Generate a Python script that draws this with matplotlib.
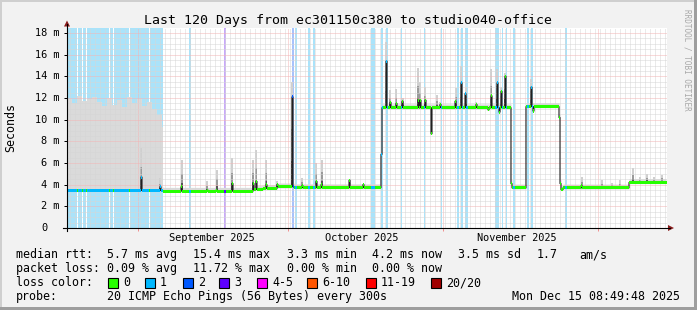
import numpy as np
import matplotlib
matplotlib.use("Agg")
import matplotlib.pyplot as plt
from matplotlib.patches import Rectangle, Polygon
from matplotlib.lines import Line2D
from matplotlib.transforms import blended_transform_factory

W, H = 697, 310
MONO = "DejaVu Sans Mono"

# x = days since start of the 120 day window, y = ms
# median rtt level changes
level_day = [0.0, 19.2, 37.2, 39.2, 42.0, 45.4, 62.8, 63.0, 88.8, 89.0,
             91.8, 98.4, 98.6, 98.8, 99.2, 112.4]
level_ms = [3.45, 3.4, 3.55, 3.65, 3.8, 3.72, 6.8, 11.1, 4.1, 3.7,
            11.2, 10.2, 4.1, 3.55, 3.7, 4.2]

# top of the smoke in the first (lossy) stretch
blue_top_day = [0, 1, 2, 3, 4, 5, 6, 7, 8, 9, 10, 11, 12, 13, 14, 15, 16, 17, 18, 19, 19.2]
blue_top_ms = [11.9, 11.5, 12.2, 11.7, 11.9, 12.1, 11.6, 11.3, 12.0, 11.4,
               11.8, 11.2, 12.1, 11.5, 11.9, 11.3, 11.6, 11.0, 10.4, 9.3, 9.3]

# single-sample excursions of the median, with the top of their smoke
spike_day = [14.8, 18.6, 22.9, 28.0, 29.9, 33.0, 37.1, 37.9, 39.8, 42.0,
             45.0, 47.0, 49.8, 50.9, 56.5, 59.1, 63.8, 64.6, 65.8, 67.1,
             70.2, 70.6, 71.6, 72.8, 73.9, 74.6, 77.7, 78.8, 79.7, 81.8,
             84.3, 84.8, 85.9, 86.4, 86.8, 87.6, 92.8, 93.2, 102.9, 106.9,
             108.9, 110.6, 113.1, 114.5, 115.9, 117.3, 118.9]
spike_med = [4.7, 3.8, 3.8, 3.5, 3.5, 4.1, 4.1, 4.3, 4.0, 4.0,
             12.1, 3.9, 4.3, 4.0, 4.4, 4.0, 15.4, 11.6, 11.5, 11.7,
             11.8, 11.8, 11.8, 8.7, 11.1, 11.4, 11.7, 13.4, 12.4, 11.4,
             10.9, 12.2, 13.4, 10.7, 12.6, 14.0, 13.0, 10.8, 3.9, 3.7,
             3.7, 3.7, 4.2, 4.2, 4.2, 4.2, 4.2]
spike_top = [7.4, 4.6, 6.3, 4.3, 5.4, 6.5, 6.3, 7.2, 6.3, 4.3,
             13.5, 4.6, 6.0, 6.3, 4.5, 4.1, 17.2, 12.7, 12.8, 12.0,
             14.8, 13.5, 13.0, 11.1, 12.3, 11.6, 12.9, 15.0, 13.0, 11.6,
             11.1, 14.7, 14.7, 11.1, 13.0, 14.3, 13.8, 11.2, 4.7, 4.4,
             4.2, 4.4, 5.5, 4.7, 5.0, 4.7, 4.9]
spike_loss = [1, 1, 0, 0, 0, 0, 0, 0, 0, 0,
              2, 0, 0, 0, 0, 0, 1, 0, 0, 0,
              0, 0, 0, 0, 0, 0, 0, 1, 1, 0,
              0, 0, 1, 0, 0, 0, 1, 0, 0, 0,
              0, 0, 0, 0, 0, 0, 0]

# packet loss events (loss class index into the legend)
loss_day = [24.4, 31.4, 45.0, 45.5, 48.3, 49.1, 60.7, 61.3, 62.7, 63.8,
            66.9, 71.4, 74.6, 77.9, 78.8, 79.8, 85.7, 86.1, 86.9, 87.6,
            89.3, 91.9, 92.9, 99.7]
loss_cls = [1, 3, 2, 1, 1, 1, 1, 1, 1, 1,
            1, 1, 1, 1, 1, 1, 1, 1, 1, 1,
            1, 1, 1, 1]
loss1_span = (0.0, 19.2)
loss1_gaps = [2.0, 3.0, 3.8, 8.3, 9.2, 12.4, 16.4]

month_start = [14.2, 44.2, 75.2, 106.2]
month_mid = [29.0, 59.0, 90.0]
month_name = ["September 2025", "October 2025", "November 2025"]
ytick_ms = [0, 2, 4, 6, 8, 10, 12, 14, 16, 18]

loss_label = ["0", "1", "2", "3", "4-5", "6-10", "11-19", "20/20"]
loss_color = ["#26ff00", "#00b8ff", "#0059ff", "#5e00ff",
              "#ff00ff", "#ff5500", "#ff0000", "#a10000"]
loss_light = ["#ffffff", "#aae3fa", "#a8c2fb", "#c9a8fb",
              "#ffa8ff", "#ffc6a8", "#ffa8a8", "#e0a8a8"]

stats_rows = [
    [(16, "median rtt:"), (107, "5.7 ms avg"), (193, "15.4 ms max"), (287, "3.3 ms min"),
     (372, "4.2 ms now"), (458, "3.5 ms sd"), (537, "1.7"), (579, "am/s")],
    [(16, "packet loss:"), (107, "0.09 % avg"), (193, "11.72 % max"), (287, "0.00 % min"),
     (372, "0.00 % now")],
]
legend_x = [108, 145, 183, 219, 257, 307, 366, 431]

# ---- build the rrd-like sample series (one sample per pixel) ----
STEP = 0.2
n = 600
t = np.arange(n) * STEP
median = np.array(level_ms)[np.searchsorted(level_day, t + 1e-9, side="right") - 1]
base = median.copy()
loss = np.zeros(n, dtype=int)
loss[(t >= loss1_span[0]) & (t < loss1_span[1])] = 1
for d in loss1_gaps:
    loss[int(round(d / STEP))] = 0
for d, c in zip(loss_day, loss_cls):
    i = int(round(d / STEP))
    loss[i:i + 2] = c
for d, m, c in zip(spike_day, spike_med, spike_loss):
    i = int(round(d / STEP))
    median[i] = m
    loss[i] = c

fig = plt.figure(figsize=(W / 100, H / 100), dpi=100, facecolor="#f2f2f2")
ax = fig.add_axes([67 / W, (H - 228) / H, 600 / W, 200.4 / H])
ax.set_facecolor("white")
ax.set_xlim(0, 120)
ax.set_ylim(0, 18.5)
for s in ax.spines.values():
    s.set_visible(False)

# loss background bars
lm = loss > 0
ax.bar(t[lm], 18.5, width=STEP, align="edge", bottom=0,
       color=[loss_light[c] for c in loss[lm]], linewidth=0, antialiased=False, zorder=1)

# smoke
ax.fill_between(t, base - 0.1, base + 0.35, step="post", color="#d9d9d9", lw=0, zorder=1.5)
ax.fill_between(blue_top_day, 3.4, blue_top_ms, step="post", color="#dadada", lw=0, zorder=1.5)
sb = np.array([base[int(round(d / STEP))] for d in spike_day])
st = np.array(spike_top)
h = np.clip(st - sb, 0, None)
ax.bar(spike_day, h, bottom=sb, width=0.4, align="center", color="#cfcfcf", lw=0, zorder=1.6)
ax.bar(spike_day, h * 0.55, bottom=sb, width=0.4, align="center", color="#9a9a9a", lw=0, zorder=1.7)
ax.bar(spike_day, h * 0.25, bottom=sb, width=0.4, align="center", color="#555555", lw=0, zorder=1.8)

# grid
ax.set_axisbelow(False)
ax.set_xticks(month_start)
ax.set_xticks(np.arange(0.6, 120, 1.0), minor=True)
ax.set_yticks(ytick_ms)
ax.set_yticks(np.arange(0, 18.5, 0.5), minor=True)
ax.grid(which="minor", color="#d6d6d6", lw=0.72, ls=(0, (1, 1)))
ax.grid(which="major", color="#f3b5b5", lw=0.72, ls=(0, (1, 1)))
ax.tick_params(which="minor", length=0)
ax.tick_params(axis="x", which="major", length=2.2, width=0.72, color="#f09090",
               labelbottom=False)
ax.tick_params(axis="y", which="major", length=2.2, width=0.72, color="black",
               labelleft=False)

# median: thin dark line + loss coloured band
ax.step(np.append(t, 120), np.append(median, median[-1]), where="post",
        color="#202020", lw=0.8, zorder=4)
ax.bar(t, 0.28, bottom=median - 0.14, width=STEP, align="edge",
       color=[loss_color[c] for c in loss], lw=0, antialiased=False, zorder=5)

# axes lines with arrows
def px(x, y):
    return x / W, 1 - y / H

fig.add_artist(Line2D(*zip(px(63, 228), px(670, 228)), color="black", lw=0.8))
fig.add_artist(Line2D(*zip(px(67, 231), px(67, 24)), color="black", lw=0.8))
fig.add_artist(Polygon([px(64, 26.5), px(70, 26.5), px(67, 20.5)], closed=True,
                       transform=fig.transFigure, color="#8a1c1c", lw=0))
fig.add_artist(Polygon([px(668, 225), px(668, 231), px(674, 228)], closed=True,
                       transform=fig.transFigure, color="#8a1c1c", lw=0))

# axis labels
ytr = blended_transform_factory(fig.transFigure, ax.transData)
for v in ytick_ms:
    if v == 0:
        fig.text(47.5 / W, v, "0", transform=ytr, ha="right", va="center",
                 family=MONO, size=7.4)
    else:
        fig.text(59.5 / W, v, f"{v} m", transform=ytr, ha="right", va="center",
                 family=MONO, size=7.4)
xtr = blended_transform_factory(ax.transData, fig.transFigure)
for d, name in zip(month_mid, month_name):
    fig.text(d, 1 - 241 / H, name, transform=xtr, ha="center", va="baseline",
             family=MONO, size=7.4)

fig.text(*px(11, 128), "Seconds", rotation=90, ha="center", va="center",
         family=MONO, size=8.4)
fig.text(*px(348, 24), "Last 120 Days from ec301150c380 to studio040-office",
         ha="center", va="baseline", family=MONO, size=9.5)
fig.text(*px(687, 60), "RRDTOOL / TOBI OETIKER", rotation=270, ha="center",
         va="center", family=MONO, size=5.5, color="#a8a8a8")

# legend block
for row, yb in zip(stats_rows, [258, 272]):
    for x, s in row:
        fig.text(*px(x, yb), s, ha="left", va="baseline", family=MONO, size=8.4)
fig.text(*px(16, 286), "loss color:", ha="left", va="baseline", family=MONO, size=8.4)
for x, lab, col in zip(legend_x, loss_label, loss_color):
    fig.add_artist(Rectangle(px(x, 287.5), 10 / W, 10 / H, transform=fig.transFigure,
                             facecolor=col, edgecolor="black", lw=0.8))
    fig.text(*px(x + 15, 286), lab, ha="left", va="baseline", family=MONO, size=8.4)
fig.text(*px(16, 300), "probe:", ha="left", va="baseline", family=MONO, size=8.4)
fig.text(*px(107, 300), "20 ICMP Echo Pings (56 Bytes) every 300s", ha="left",
         va="baseline", family=MONO, size=8.4)
fig.text(*px(680, 300), "Mon Dec 15 08:49:48 2025", ha="right", va="baseline",
         family=MONO, size=8.4)

# frame shading
fig.add_artist(Rectangle((0, 1 - 2 / H), 1, 2 / H, transform=fig.transFigure, color="#cfcfcf", lw=0))
fig.add_artist(Rectangle((0, 0), 2 / W, 1, transform=fig.transFigure, color="#cfcfcf", lw=0))
fig.add_artist(Rectangle((0, 0), 1, 3 / H, transform=fig.transFigure, color="#9e9e9e", lw=0))
fig.add_artist(Rectangle((1 - 3 / W, 0), 3 / W, 1, transform=fig.transFigure, color="#9e9e9e", lw=0))

fig.savefig("out.png", dpi=100, facecolor=fig.get_facecolor())
